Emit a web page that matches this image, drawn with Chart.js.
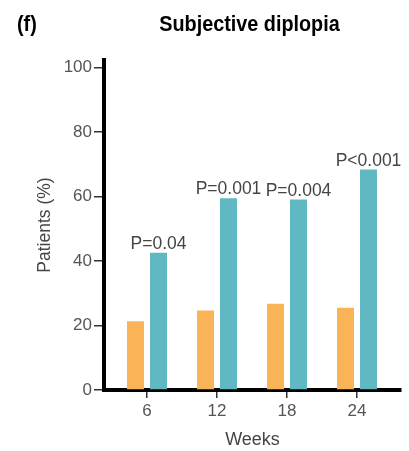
<!DOCTYPE html>
<html><head><meta charset="utf-8">
<script src="https://cdn.jsdelivr.net/npm/chart.js@4"></script>
<style>html,body{margin:0;padding:0;background:#fff}#wrap{width:409px;height:451px}</style>
</head><body><div id="wrap"><canvas id="c" width="409" height="451"></canvas></div>
<script>
const weeks = [6, 12, 18, 24];
const controlValues = [21.3, 24.6, 26.7, 25.5];
const treatedValues = [42.5, 59.4, 59.0, 68.3];
const pLabels = ['P=0.04', 'P=0.001', 'P=0.004', 'P<0.001'];
const yTicks = [0, 20, 40, 60, 80, 100];
const panelLabel = '(f)';
const chartTitle = 'Subjective diplopia';
const xTitle = 'Weeks';
const yTitle = 'Patients (%)';

const FONT = "'Liberation Sans', Arial, Helvetica, sans-serif";

function condensedText(ctx, text, x, y, align, sx) {
  ctx.save();
  ctx.translate(x, y);
  ctx.scale(sx, 1);
  ctx.textAlign = align;
  ctx.fillText(text, 0, 0);
  ctx.restore();
}

const annot = {
  id: 'annot',
  afterDraw(chart) {
    const ctx = chart.ctx;
    const ca = chart.chartArea;
    ctx.save();
    ctx.fillStyle = '#000';
    ctx.font = "bold 22px " + FONT;
    ctx.textBaseline = 'alphabetic';
    condensedText(ctx, panelLabel, 17, 31, 'left', 0.9);
    condensedText(ctx, chartTitle, (ca.left + ca.right) / 2 - 3, 31, 'center', 0.9);
    // p-value labels above the treated bars
    const meta = chart.getDatasetMeta(1);
    ctx.font = "17.5px " + FONT;
    ctx.fillStyle = '#444';
    ctx.textAlign = 'center';
    meta.data.forEach((bar, i) => {
      ctx.fillText(pLabels[i], bar.x, bar.y - 4);
    });
    ctx.restore();
  }
};

new Chart(document.getElementById('c'), {
  type: 'bar',
  data: {
    datasets: [
      {
        data: weeks.map((w, i) => ({ x: w, y: controlValues[i] })),
        backgroundColor: '#F8B457',
        borderWidth: 0,
        categoryPercentage: 0.657,
        barPercentage: 0.739
      },
      {
        data: weeks.map((w, i) => ({ x: w, y: treatedValues[i] })),
        backgroundColor: '#60B8C3',
        borderWidth: 0,
        categoryPercentage: 0.657,
        barPercentage: 0.739
      }
    ]
  },
  options: {
    responsive: false,
    animation: false,
    devicePixelRatio: 1,
    layout: { padding: { top: 60, right: 8, bottom: 0, left: 0 } },
    plugins: { legend: { display: false }, tooltip: { enabled: false }, title: { display: false } },
    scales: {
      x: {
        type: 'linear',
        offset: false,
        min: 2.314,
        max: 27.771,
        afterBuildTicks: s => { s.ticks = weeks.map(v => ({ value: v })); },
        afterFit: s => { s.height = 61; },
        grid: { offset: false, drawOnChartArea: false, drawTicks: true, tickLength: 8, color: '#333', lineWidth: 1.5 },
        border: { display: true, width: 4, color: '#000' },
        ticks: { font: { size: 17, family: FONT }, color: '#555', padding: 3, maxRotation: 0, callback: v => v },
        title: { display: true, text: xTitle, font: { size: 18, family: FONT }, color: '#444', padding: { top: 0, bottom: 0 } }
      },
      y: {
        min: 0,
        max: 102.26,
        afterBuildTicks: s => { s.ticks = yTicks.map(v => ({ value: v })); },
        afterFit: s => { s.width = 104; },
        grid: { drawOnChartArea: false, drawTicks: true, tickLength: 10, color: '#333', lineWidth: 1.5 },
        border: { display: true, width: 4, color: '#000' },
        ticks: { font: { size: 17, family: FONT }, color: '#555', padding: 2, callback: v => v },
        title: { display: true, text: yTitle, font: { size: 17.5, family: FONT }, color: '#444', padding: { top: 35, bottom: 0 } }
      }
    }
  },
  plugins: [annot]
});
</script>
</body></html>
